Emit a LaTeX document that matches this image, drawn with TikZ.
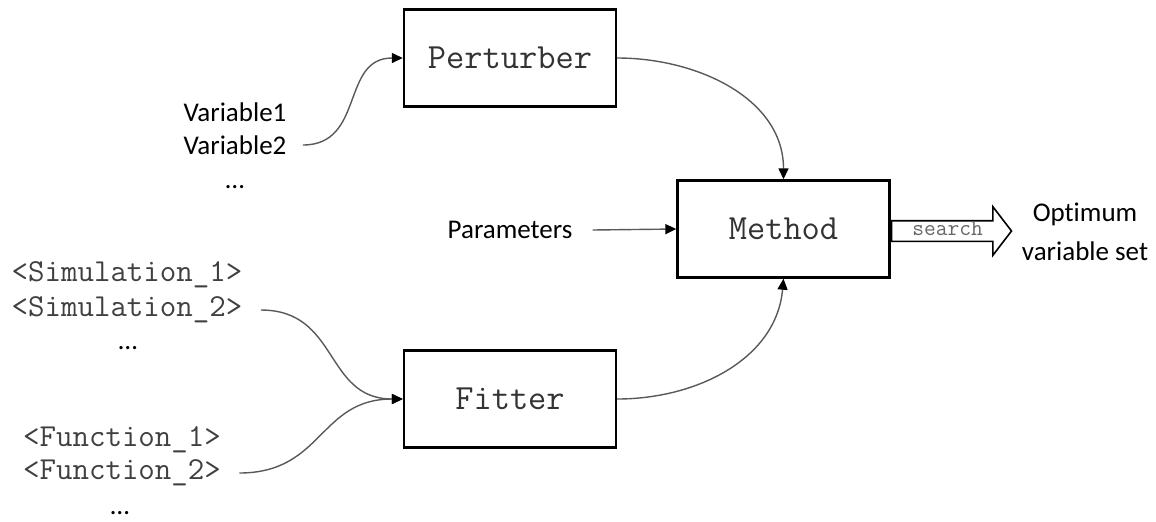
\documentclass[tikz,border=0pt]{standalone}
\usepackage{fontspec}
\setmainfont[Ligatures=NoCommon]{Carlito}
\usetikzlibrary{arrows.meta,shapes.arrows}

\begin{document}
\begin{tikzpicture}[x=0.5pt,y=-0.5pt,
  blk/.style={draw,line width=1.2pt,minimum width=106pt,minimum height=48.5pt,font=\ttfamily\fontsize{17.7}{20}\selectfont,text=black!80},
  lbl/.style={font=\fontsize{13.5}{16}\selectfont,inner sep=0pt},
  code/.style={font=\ttfamily\fontsize{16}{18}\selectfont,text=black!75,inner sep=0pt},
  wire/.style={draw=black!65,line width=0.7pt,-{Triangle[length=5.5pt,width=5pt,black]}}]
\useasboundingbox (0,0) rectangle (1156,521);

% the three blocks
\node[blk] (pert) at (510,58) {Perturber};
\node[blk] (meth) at (783.5,229) {Method};
\node[blk] (fit) at (510,399) {Fitter};

% inputs on the left
\foreach \y/\t/\n in {112/Variable1/var1,145/Variable2/var2,187/…/var3}
   \node[lbl] (\n) at (235,\y) {\t};
\foreach \y/\t/\n in {275/<Simulation\_1>/sim1,310/<Simulation\_2>/sim2}
   \node[code] (\n) at (127,\y) {\t};
\node[lbl] (sim3) at (128,348) {…};
\foreach \y/\t/\n in {440/<Function\_1>/fun1,473/<Function\_2>/fun2}
   \node[code] (\n) at (122,\y) {\t};
\node[lbl] (fun3) at (120,513) {…};
\node[lbl] (par) at (510,230) {Parameters};

% output
\node[single arrow,draw,line width=0.8pt,anchor=tail,inner xsep=2pt,inner ysep=1pt,
      text height=6pt,text depth=1.5pt,minimum height=60pt,
      single arrow head extend=7pt,single arrow tip angle=105,
      font=\ttfamily\fontsize{11.4}{12}\selectfont,text=black!60] (srch) at ([yshift=-1pt]meth.east) {search};
\node[lbl,align=center,font=\fontsize{13.5}{19.5}\selectfont] (opt) at (1085,232) {Optimum\\variable set};

% connectors
\draw[wire] ([xshift=8pt]var2.east) to[out=0,in=180,looseness=1.2] (pert.west);
\draw[wire] (pert.east) to[out=0,in=90] (meth.north);
\draw[wire] (fit.east) to[out=0,in=-95] (meth.south);
\draw[wire] ([xshift=9pt]sim2.east) to[out=0,in=180,looseness=1.2] (fit.west);
\draw[wire] ([xshift=9pt]fun2.east) to[out=0,in=180,looseness=1.2] (fit.west);
\draw[wire] ([xshift=10pt]par.east) -- (meth.west);
\end{tikzpicture}
\end{document}
